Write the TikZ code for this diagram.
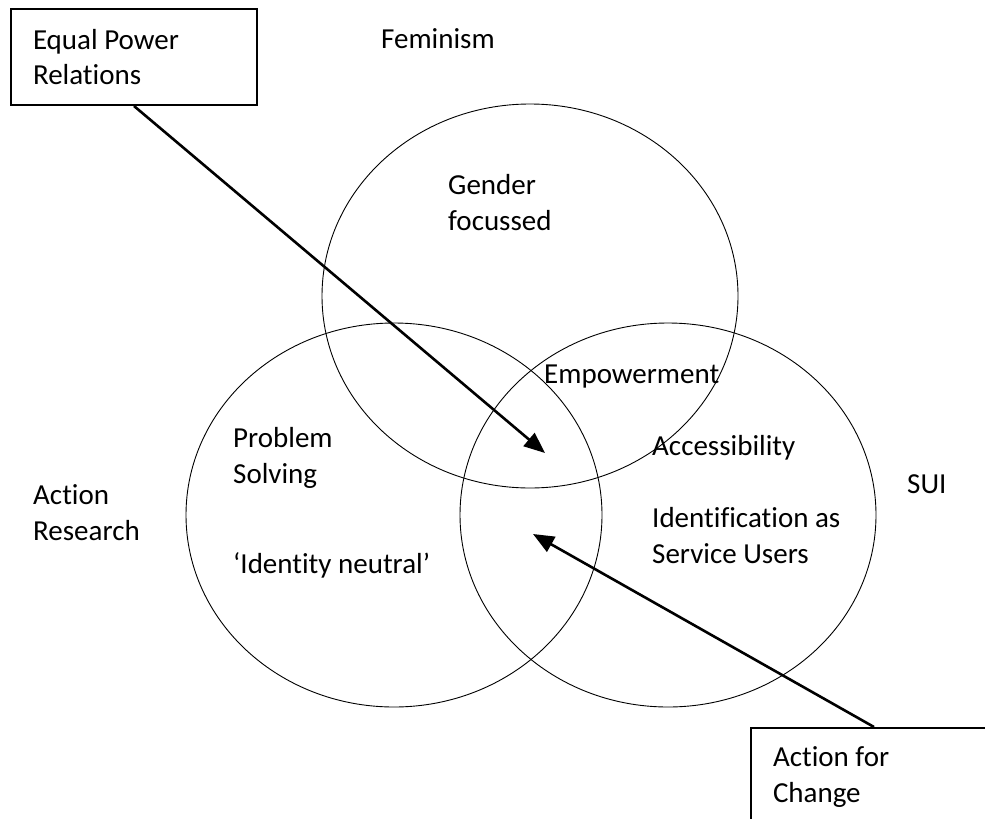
\documentclass[tikz,border=0pt]{standalone}
\usepackage{fontspec}
\setmainfont{Carlito}[Ligatures=NoCommon]
\usepackage{tikz}
\usetikzlibrary{arrows.meta}
\definecolor{ink}{RGB}{0,0,0}

\begin{document}
\begin{tikzpicture}[x=1pt,y=-1pt,
    lbl/.style={font=\fontsize{29}{35.5}\selectfont,inner sep=0pt,anchor=base west,align=flush left},
    callout/.style={draw=ink,line width=2pt,font=\fontsize{29}{35.5}\selectfont,
      inner xsep=22pt,inner ysep=0pt,text width=202pt,align=flush left,minimum width=246pt},
    pointer/.style={draw=ink,line width=2.6pt,-{Triangle[length=21pt,width=17pt]}},
    ring/.style={draw=ink,line width=0.9pt}]
    \useasboundingbox (0,0) rectangle (985,819);
    \clip (0,0) rectangle (985,819);
    % the three circles
    \draw[ring] (530,296) ellipse[x radius=208,y radius=192];
    \draw[ring] (394,515) ellipse[x radius=208,y radius=192];
    \draw[ring] (668,515) ellipse[x radius=208,y radius=192];
    % labels (base = last line)
    \node[lbl] (fem) at (381,48) {Feminism};
    \node[lbl] (gender) at (448,230) {Gender\\focussed};
    \node[lbl] (emp) at (544,383) {Empowerment};
    \node[lbl] (prob) at (233,483) {Problem\\Solving};
    \node[lbl] (acc) at (652,455) {Accessibility};
    \node[lbl] (ar) at (33,540) {Action\\Research};
    \node[lbl] (sui) at (907,493) {SUI};
    \node[lbl] (ident) at (652,563) {Identification as\\Service Users};
    \node[lbl] (neutral) at (233,573) {‘Identity neutral’};
    % call-out boxes
    \node[callout,minimum height=96pt] (epr) at (134,57) {Equal Power\\Relations};
    \node[callout,minimum height=98pt,anchor=north west] (afc) at (750,727) {Action for\\Change};
    % pointers into the middle
    \coordinate (tipA) at (545,453);
    \coordinate (tipB) at (533,534);
    \draw[pointer] (epr.south) -- (tipA);
    \draw[pointer] (afc.north) -- (tipB);
\end{tikzpicture}
\end{document}
